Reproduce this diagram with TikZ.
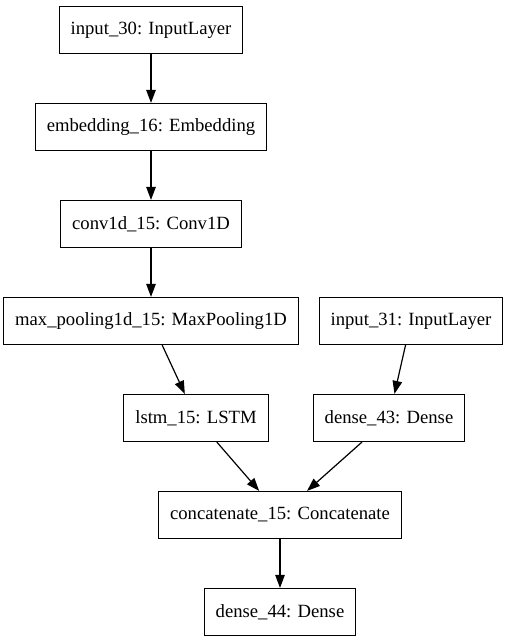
\documentclass[tikz,border=0pt]{standalone}
\usepackage{fontspec}
\setmainfont{Liberation Serif}
\usetikzlibrary{shapes,arrows.meta,positioning}

\begin{document}
\begin{tikzpicture}[x=1pt,y=-1pt,line width=1.2pt,
		layer/.style={draw,rectangle,minimum height=47pt,inner xsep=11.5pt,font=\fontsize{18.67pt}{22pt}\selectfont},
		>={Triangle[length=13pt,width=9.5pt]}]
	\useasboundingbox (0,0) rectangle (507,644);
	\node[layer] (in30) at (151,30) {input\_30: InputLayer};
	\node[layer] (emb) at (151,127) {embedding\_16: Embedding};
	\node[layer] (conv) at (151,224) {conv1d\_15: Conv1D};
	\node[layer] (pool) at (151,321) {max\_pooling1d\_15: MaxPooling1D};
	\node[layer] (in31) at (411,321) {input\_31: InputLayer};
	\node[layer] (lstm) at (196,418) {lstm\_15: LSTM};
	\node[layer] (d43) at (389,418) {dense\_43: Dense};
	\node[layer] (cat) at (280,515) {concatenate\_15: Concatenate};
	\node[layer] (d44) at (280,612) {dense\_44: Dense};
	\draw[->] (in30) -- (emb);
	\draw[->] (emb) -- (conv);
	\draw[->] (conv) -- (pool);
	\draw[->] (pool) -- (lstm);
	\draw[->] (in31) -- (d43);
	\draw[->] (lstm) -- (cat);
	\draw[->] (d43) -- (cat);
	\draw[->] (cat) -- (d44);
\end{tikzpicture}
\end{document}
